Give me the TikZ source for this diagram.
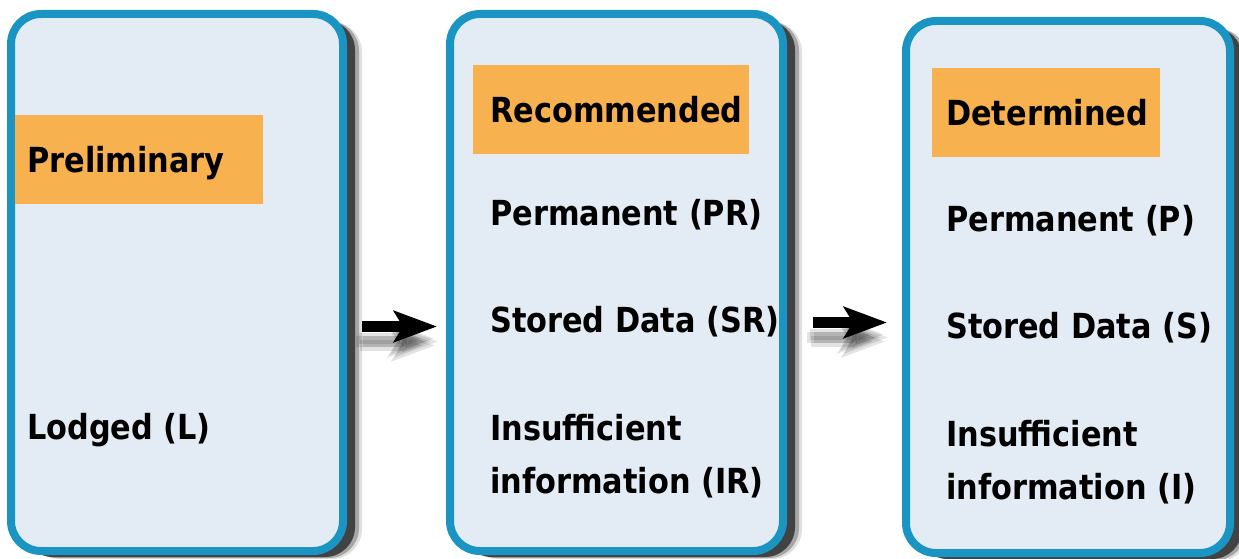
\documentclass[tikz,border=0pt]{standalone}
\usepackage{fontspec}
\setmainfont{DejaVu Sans}[FakeStretch=0.88]
\usetikzlibrary{positioning,arrows.meta}

\definecolor{stageblue}{HTML}{1A94C2}
\definecolor{stagefill}{HTML}{E3ECF4}
\definecolor{tagorange}{HTML}{F7B14F}

\begin{document}
\begin{tikzpicture}[x=1pt,y=-1pt,
font=\fontsize{34.5}{53}\selectfont\bfseries,
stage/.style={rectangle, rounded corners=30pt, draw=stageblue, line width=8pt, fill=stagefill,
  preaction={fill=black!12, transform canvas={shift={(19pt,-8pt)}}},
  preaction={fill=black!35, transform canvas={shift={(16pt,-7pt)}}},
  preaction={fill=black!74, transform canvas={shift={(12pt,-6pt)}}}},
tagbox/.style={rectangle, fill=tagorange, inner ysep=0pt, minimum height=89pt, text height=25pt, text depth=0pt, align=left, anchor=north west},
entry/.style={inner sep=0pt, anchor=base west, align=left},
bigarrow/.style={line width=11pt, -{Stealth[length=43pt, width=31pt, inset=9pt]}},
]
\useasboundingbox (0,0) rectangle (1239,559);

% stages
\node[stage, minimum width=332pt, minimum height=537pt](prelim) at (177,282.5){};
\node[stage, minimum width=333pt, minimum height=537pt](recom) at (616.5,282.5){};
\node[stage, minimum width=324pt, minimum height=532pt](determ) at (1068,287){};

% headings
\node[tagbox, inner xsep=12pt, text width=224pt](prelimtag) at (15,115){Preliminary};
\node[tagbox, inner xsep=17pt, text width=242pt](recomtag) at (473,65){Recommended};
\node[tagbox, inner xsep=14pt, text width=200pt](determtag) at (932,68){Determined};

% entries (base of a two-line entry is its last line)
\node[entry](lodged) at (27,439){Lodged (L)};

\node[entry](recperm) at (490,225){Permanent (PR)};
\node[entry](recstored) at (490,332){Stored Data (SR)};
\node[entry](recinsuf) at (490,493){Insufficient\\information (IR)};

\node[entry](detperm) at (946,231){Permanent (P)};
\node[entry](detstored) at (946,338){Stored Data (S)};
\node[entry](detinsuf) at (946,499){Insufficient\\information (I)};

% arrows
\coordinate (arrowone) at ([yshift=-44pt]prelim.east);
\coordinate (arrowtwo) at ([yshift=-40pt]recom.east);
\foreach \dx/\dy in {-6/-15, -2/-19, 1/-15, -3/-12}{
  \draw[bigarrow, black, opacity=0.11, shorten <=15pt, shorten >=9pt, transform canvas={shift={(\dx pt,\dy pt)}}] (arrowone) -- (arrowone -| recom.west);
  \draw[bigarrow, black, opacity=0.11, shorten <=26pt, shorten >=15pt, transform canvas={shift={(\dx pt,\dy pt)}}] (arrowtwo) -- (arrowtwo -| determ.west);
}
\draw[bigarrow, shorten <=15pt, shorten >=9pt] (arrowone) -- (arrowone -| recom.west);
\draw[bigarrow, shorten <=26pt, shorten >=15pt] (arrowtwo) -- (arrowtwo -| determ.west);

\end{tikzpicture}
\end{document}
